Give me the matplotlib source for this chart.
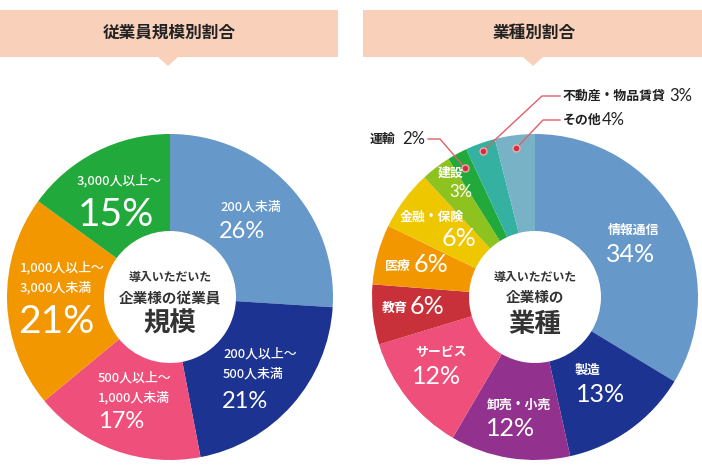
import numpy as np
import matplotlib.pyplot as plt
from matplotlib.patches import Rectangle, Polygon

plt.rcParams['font.family'] = ['Noto Sans CJK JP', 'DejaVu Sans']

# =========================
# DATA
# =========================
size_labels = ["200人未満", "200人以上〜\n500人未満", "500人以上〜\n1,000人未満",
               "1,000人以上〜\n3,000人未満", "3,000人以上〜"]
size_values = [26, 21, 17, 21, 15]
size_colors = ["#6698CA", "#1C3392", "#EE507B", "#F29700", "#22A93B"]

industry_labels = ["情報通信", "製造", "卸売・小売", "サービス", "教育", "医療",
                   "金融・保険", "建設", "運輸", "不動産・物品賃貸", "その他"]
industry_values = [34, 13, 12, 12, 6, 6, 6, 3, 2, 3, 4]
industry_colors = ["#6698CA", "#1C3392", "#93318F", "#EE507B", "#C9313A", "#F29700",
                   "#EFC700", "#8DC21F", "#22A93B", "#34B1A0", "#78B2C6"]

titles = ["従業員規模別割合", "業種別割合"]
center_texts = [["導入いただいた", "企業様の従業員", "規模"],
                ["導入いただいた", "企業様の", "業種"]]

# =========================
# LAYOUT (pixel coords, y from top)
# =========================
W, H = 702, 470
def Y(y):
    return H - y

R_OUT, R_IN = 163, 66
centers = [(170, 297), (535, 297)]
PCT_FAMILY = ['Lato', 'DejaVu Sans']

# name x, first line y, pct x, pct y, pct size
size_pos = [(220, 207, 219, 231, 17),
            (223, 354, 222, 402, 17),
            (98, 378, 98, 422, 17),
            (20, 268, 18, 322, 28),
            (77, 181, 78, 215, 28)]
industry_pos = [(608, 230, 606, 254, 18),
                (575, 370, 576, 395, 18),
                (487, 405, 486, 428, 18),
                (415, 352, 412, 377, 18),
                (382, 308, 410, 307, 18),
                (385, 266, 414, 265, 18),
                (400, 217, 442, 238, 18),
                (438, 173, 449, 192, 12)]
# callouts: name x, y, pct x, elbow x, elbow y, line end x, dot radius
callouts = {8: (370, 139, 402, 440, 139, 428, 147),
            9: (563, 96, 669, 542, 96, 560, 155),
            10: (563, 120, 602, 543, 120, 560, 150)}

fig = plt.figure(figsize=(7.02, 4.70), dpi=100)
ax = fig.add_axes([0, 0, 1, 1])

# =========================
# HEADERS
# =========================
for (x0, x1, tip), title in zip([(0, 338, 168), (363, 702, 533)], titles):
    ax.add_patch(Rectangle((x0, Y(57)), x1 - x0, 47, color="#F9D0BA", lw=0))
    ax.add_patch(Polygon([(tip - 10, Y(57)), (tip + 10, Y(57)), (tip, Y(66))],
                         color="#F9D0BA", lw=0))
    ax.text(tip + 1, Y(33), title, ha='center', va='center', fontsize=12,
            fontweight='bold', color='#222222')

# =========================
# DONUTS
# =========================
for (cx, cy), vals, cols in zip(centers, [size_values, industry_values],
                                [size_colors, industry_colors]):
    ax.pie(vals, colors=cols, startangle=90, counterclock=False,
           center=(cx, Y(cy)), radius=R_OUT,
           wedgeprops=dict(width=R_OUT - R_IN, linewidth=0))

# center texts
for (cx, cy), lines in zip(centers, center_texts):
    ax.text(cx, Y(cy - 19), lines[0], ha='center', va='center', fontsize=8.6,
            fontweight='bold', color='#333333')
    ax.text(cx, Y(cy), lines[1], ha='center', va='center', fontsize=10.5,
            fontweight='bold', color='#333333')
    ax.text(cx, Y(cy + 27), lines[2], ha='center', va='center', fontsize=19,
            fontweight='bold', color='#333333')

# left labels
for name, v, (nx, ny, px, py, ps) in zip(size_labels, size_values, size_pos):
    for i, line in enumerate(name.split("\n")):
        ax.text(nx, Y(ny + 19.5 * i), line, ha='left', va='center', fontsize=9.3,
                fontweight='medium', color='white')
    ax.text(px, Y(py), f"{v}%", ha='left', va='center', fontsize=ps,
            family=PCT_FAMILY, color='white')

# right labels inside
for name, v, (nx, ny, px, py, ps) in zip(industry_labels, industry_values, industry_pos):
    ax.text(nx, Y(ny), name, ha='left', va='center', fontsize=9.3,
            fontweight='bold', color='white')
    ax.text(px, Y(py), f"{v}%", ha='left', va='center', fontsize=ps,
            family=PCT_FAMILY, color='white')

# callouts
cx, cy = centers[1]
total = sum(industry_values)
cum = np.cumsum([0] + industry_values)
for idx, (nx, ny, px, ex, ey, lx, rr) in callouts.items():
    mid = (cum[idx] + cum[idx + 1]) / 2 / total * 2 * np.pi
    dot = (cx + rr * np.sin(mid), Y(cy) + rr * np.cos(mid))
    ax.plot([dot[0], ex, lx], [dot[1], Y(ey), Y(ey)], color="#E0606A", lw=1)
    ax.plot(*dot, 'o', ms=5, color="#D22F3C", mec="#F7A8B0", mew=1)
    ax.text(nx, Y(ny), industry_labels[idx], ha='left', va='center', fontsize=9.3,
            fontweight='bold', color='#222222')
    ax.text(px, Y(ny), f"{industry_values[idx]}%", ha='left', va='center',
            fontsize=12, family=PCT_FAMILY, color='#222222')

ax.set_xlim(0, W)
ax.set_ylim(0, H)
ax.set_aspect('auto')
ax.axis('off')

plt.savefig("out.png", dpi=100)
